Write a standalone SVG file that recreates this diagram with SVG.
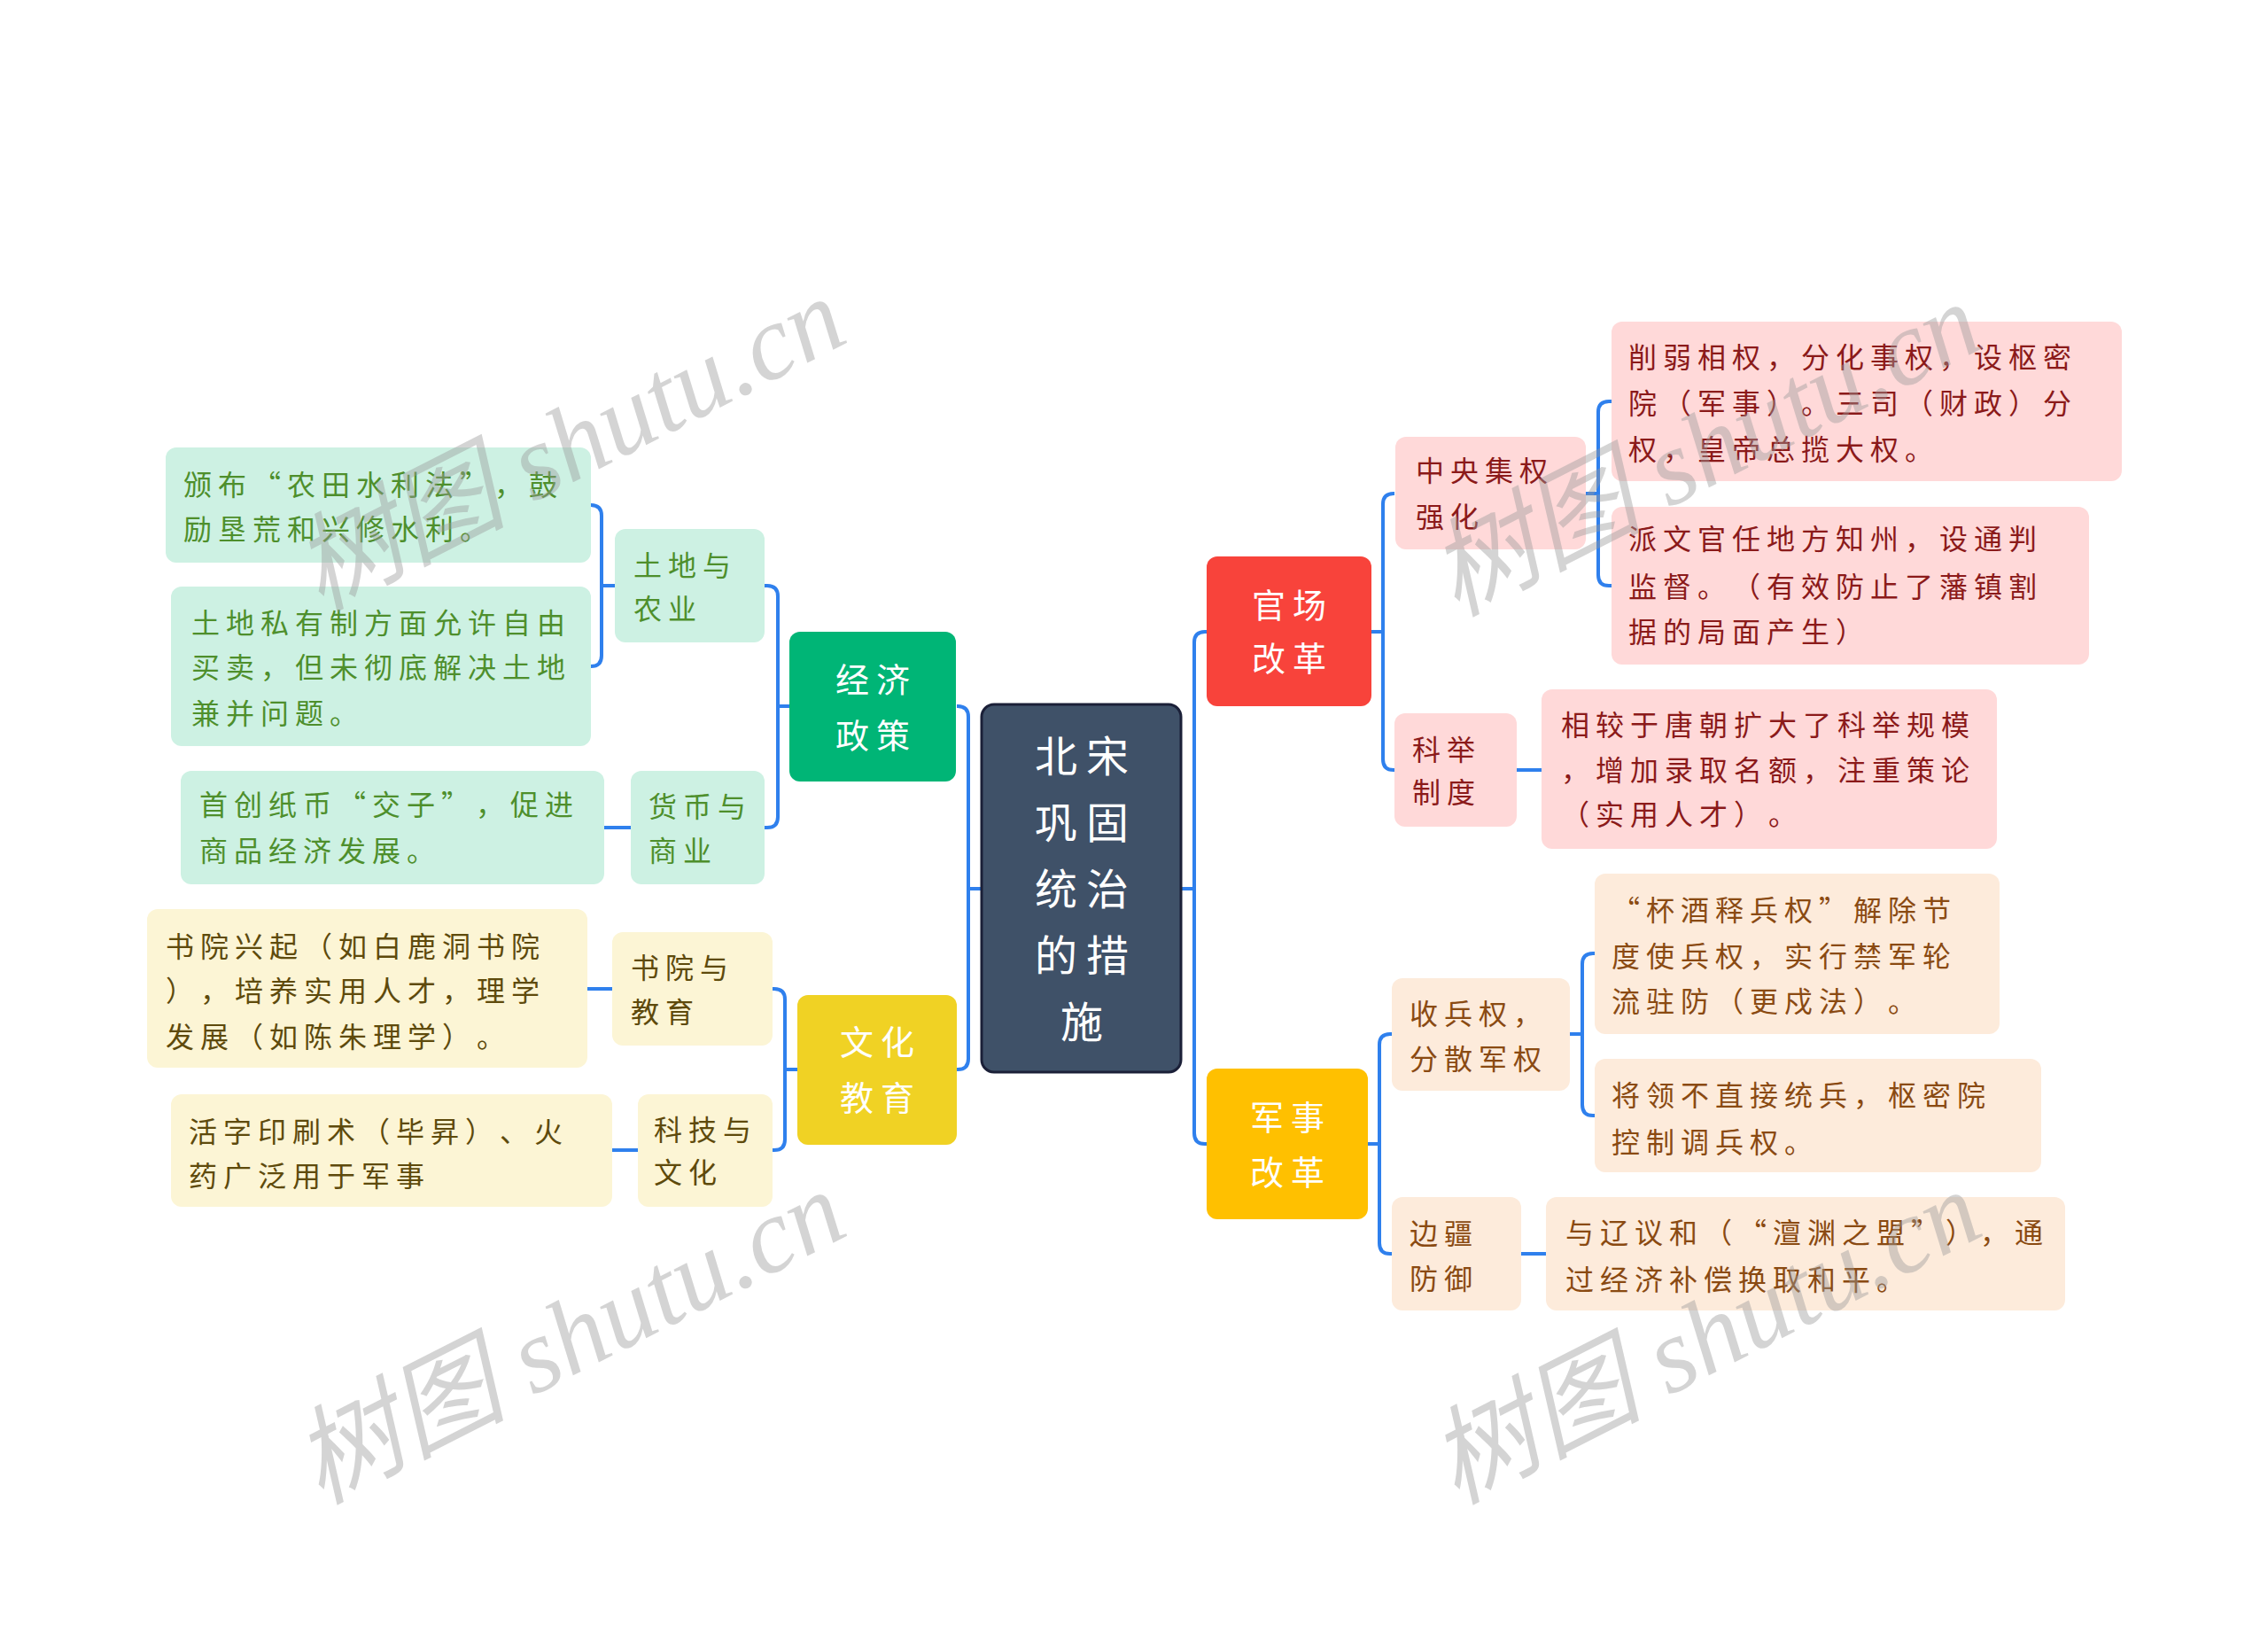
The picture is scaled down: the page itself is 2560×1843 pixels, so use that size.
<svg xmlns="http://www.w3.org/2000/svg" width="2560" height="1843" viewBox="0 0 2560 1843">
<style>
.bg{fill:#ffffff}
.c{fill:none;stroke:#2f80ed;stroke-width:4;stroke-linejoin:round}
text{text-spacing-trim:space-all;font-kerning:none}
.t{font-family:"Noto Sans CJK SC","Noto Sans CJK JP",sans-serif;font-size:32px;letter-spacing:7px}
.m{font-family:"Noto Sans CJK SC","Noto Sans CJK JP",sans-serif;font-size:38px;letter-spacing:8px;fill:#ffffff}
.root{font-family:"Noto Sans CJK SC","Noto Sans CJK JP",sans-serif;font-size:48px;letter-spacing:10px;fill:#ffffff}
.pk rect{fill:#ffd9d9}.pk text{fill:#8b1a1a}
.pe rect{fill:#fdebdb}.pe text{fill:#8a4a12}
.gr rect{fill:#cdf1e3}.gr text{fill:#4e8f2c}
.ye rect{fill:#fcf5d5}.ye text{fill:#5e4a0c}
.wm{font-family:"Liberation Serif","Noto Sans CJK SC",serif;font-style:italic;font-size:120px;fill:#9a9a9a;opacity:0.42}
</style>
<rect class="bg" x="0" y="0" width="2560" height="1843"/>

<g id="connectors">
<path class="c" d="M1333,1003 H1348"/>
<path class="c" d="M1362,713 H1360 Q1348,713 1348,725 V1279 Q1348,1291 1360,1291 H1362"/>
<path class="c" d="M1548,713 H1561"/>
<path class="c" d="M1574,557 H1573 Q1561,557 1561,569 V857 Q1561,869 1573,869 H1574"/>
<path class="c" d="M1790,557 H1804"/>
<path class="c" d="M1819,453 H1816 Q1804,453 1804,465 V649 Q1804,661 1816,661 H1819"/>
<path class="c" d="M1712,869 H1740"/>
<path class="c" d="M1544,1291 H1557"/>
<path class="c" d="M1571,1167 H1569 Q1557,1167 1557,1179 V1403 Q1557,1415 1569,1415 H1571"/>
<path class="c" d="M1772,1167 H1786"/>
<path class="c" d="M1800,1076 H1798 Q1786,1076 1786,1088 V1247 Q1786,1259 1798,1259 H1800"/>
<path class="c" d="M1717,1415 H1745"/>
<path class="c" d="M1108,1003 H1093"/>
<path class="c" d="M1080,797 H1081 Q1093,797 1093,809 V1195 Q1093,1207 1081,1207 H1080"/>
<path class="c" d="M891,797 H878"/>
<path class="c" d="M863,661 H866 Q878,661 878,673 V922 Q878,934 866,934 H863"/>
<path class="c" d="M694,661 H679"/>
<path class="c" d="M667,570 Q679,570 679,582 V740 Q679,752 667,752"/>
<path class="c" d="M712,934 H682"/>
<path class="c" d="M900,1207 H886"/>
<path class="c" d="M872,1116 H874 Q886,1116 886,1128 V1286 Q886,1298 874,1298 H872"/>
<path class="c" d="M691,1116 H663"/>
<path class="c" d="M720,1298 H691"/>
</g>

<g id="root">
<rect x="1108" y="795" width="225" height="415" rx="14" fill="#3f5168" stroke="#1b2038" stroke-width="3"/>
<text class="root" x="1168" y="871">北宋</text>
<text class="root" x="1168" y="946">巩固</text>
<text class="root" x="1168" y="1021">统治</text>
<text class="root" x="1168" y="1096">的措</text>
<text class="root" x="1197" y="1171">施</text>
</g>

<g id="n-guanchang">
<rect x="1362" y="628" width="186" height="169" rx="12" fill="#f8433b"/>
<text class="m" x="1413" y="697">官场</text>
<text class="m" x="1413" y="757">改革</text>
</g>
<g id="n-zhongyang" class="pk">
<rect x="1575" y="493" width="215" height="127" rx="12"/>
<text class="t" x="1598" y="543">中央集权</text>
<text class="t" x="1598" y="595">强化</text>
</g>
<g id="n-xueruo" class="pk">
<rect x="1819" y="363" width="576" height="180" rx="12"/>
<text class="t" x="1838" y="415">削弱相权，分化事权，设枢密</text>
<text class="t" x="1838" y="467">院（军事）。三司（财政）分</text>
<text class="t" x="1838" y="519">权，皇帝总揽大权。</text>
</g>
<g id="n-paiwenguan" class="pk">
<rect x="1819" y="572" width="539" height="178" rx="12"/>
<text class="t" x="1838" y="620">派文官任地方知州，设通判</text>
<text class="t" x="1838" y="674">监督。（有效防止了藩镇割</text>
<text class="t" x="1838" y="725">据的局面产生）</text>
</g>
<g id="n-keju" class="pk">
<rect x="1574" y="805" width="138" height="128" rx="12"/>
<text class="t" x="1594" y="858">科举</text>
<text class="t" x="1594" y="906">制度</text>
</g>
<g id="n-xiangjiao" class="pk">
<rect x="1740" y="778" width="514" height="180" rx="12"/>
<text class="t" x="1762" y="830">相较于唐朝扩大了科举规模</text>
<text class="t" x="1762" y="881">，增加录取名额，注重策论</text>
<text class="t" x="1762" y="931">（实用人才）。</text>
</g>

<g id="n-junshi">
<rect x="1362" y="1206" width="182" height="170" rx="12" fill="#ffc000"/>
<text class="m" x="1411" y="1275">军事</text>
<text class="m" x="1411" y="1337">改革</text>
</g>
<g id="n-shoubing" class="pe">
<rect x="1571" y="1104" width="201" height="127" rx="12"/>
<text class="t" x="1591" y="1156">收兵权，</text>
<text class="t" x="1591" y="1207">分散军权</text>
</g>
<g id="n-beijiu" class="pe">
<rect x="1800" y="986" width="457" height="181" rx="12"/>
<text class="t" x="1819" y="1039">“杯酒释兵权”解除节</text>
<text class="t" x="1819" y="1091">度使兵权，实行禁军轮</text>
<text class="t" x="1819" y="1142">流驻防（更戍法）。</text>
</g>
<g id="n-jiangling" class="pe">
<rect x="1800" y="1195" width="504" height="128" rx="12"/>
<text class="t" x="1819" y="1248">将领不直接统兵，枢密院</text>
<text class="t" x="1819" y="1301">控制调兵权。</text>
</g>
<g id="n-bianjiang" class="pe">
<rect x="1571" y="1351" width="146" height="128" rx="12"/>
<text class="t" x="1591" y="1404">边疆</text>
<text class="t" x="1591" y="1455">防御</text>
</g>
<g id="n-yuliao" class="pe">
<rect x="1745" y="1351" width="586" height="128" rx="12"/>
<text class="t" x="1767" y="1403">与辽议和（“澶渊之盟”），通</text>
<text class="t" x="1767" y="1456">过经济补偿换取和平。</text>
</g>

<g id="n-jingji">
<rect x="891" y="713" width="188" height="169" rx="12" fill="#00b576"/>
<text class="m" x="943" y="781">经济</text>
<text class="m" x="943" y="844">政策</text>
</g>
<g id="n-tudi" class="gr">
<rect x="694" y="597" width="169" height="128" rx="12"/>
<text class="t" x="715" y="650">土地与</text>
<text class="t" x="715" y="699">农业</text>
</g>
<g id="n-banbu" class="gr">
<rect x="187" y="505" width="480" height="130" rx="12"/>
<text class="t" x="207" y="559">颁布“农田水利法”，鼓</text>
<text class="t" x="207" y="609">励垦荒和兴修水利。</text>
</g>
<g id="n-tudisiyou" class="gr">
<rect x="193" y="662" width="474" height="180" rx="12"/>
<text class="t" x="216" y="715">土地私有制方面允许自由</text>
<text class="t" x="216" y="765">买卖，但未彻底解决土地</text>
<text class="t" x="216" y="817">兼并问题。</text>
</g>
<g id="n-huobi" class="gr">
<rect x="712" y="870" width="151" height="128" rx="12"/>
<text class="t" x="732" y="922">货币与</text>
<text class="t" x="732" y="972">商业</text>
</g>
<g id="n-shouchuang" class="gr">
<rect x="204" y="870" width="478" height="128" rx="12"/>
<text class="t" x="225" y="920">首创纸币“交子”，促进</text>
<text class="t" x="225" y="972">商品经济发展。</text>
</g>

<g id="n-wenhua">
<rect x="900" y="1123" width="180" height="169" rx="12" fill="#f0d224"/>
<text class="m" x="948" y="1190">文化</text>
<text class="m" x="948" y="1253">教育</text>
</g>
<g id="n-shuyuan" class="ye">
<rect x="691" y="1052" width="181" height="128" rx="12"/>
<text class="t" x="712" y="1104">书院与</text>
<text class="t" x="712" y="1154">教育</text>
</g>
<g id="n-shuyuanxingqi" class="ye">
<rect x="166" y="1026" width="497" height="179" rx="12"/>
<text class="t" x="187" y="1080">书院兴起（如白鹿洞书院</text>
<text class="t" x="187" y="1130">），培养实用人才，理学</text>
<text class="t" x="187" y="1182">发展（如陈朱理学）。</text>
</g>
<g id="n-keji" class="ye">
<rect x="720" y="1235" width="152" height="127" rx="12"/>
<text class="t" x="738" y="1287">科技与</text>
<text class="t" x="738" y="1335">文化</text>
</g>
<g id="n-huozi" class="ye">
<rect x="193" y="1235" width="498" height="127" rx="12"/>
<text class="t" x="213" y="1289">活字印刷术（毕昇）、火</text>
<text class="t" x="213" y="1339">药广泛用于军事</text>
</g>

<g id="watermarks">
<text class="wm" text-anchor="middle" transform="translate(645,506) rotate(-27)" x="0" y="35">树图 shutu.cn</text>
<text class="wm" text-anchor="middle" transform="translate(1927,512) rotate(-27)" x="0" y="35">树图 shutu.cn</text>
<text class="wm" text-anchor="middle" transform="translate(645,1514) rotate(-27)" x="0" y="35">树图 shutu.cn</text>
<text class="wm" text-anchor="middle" transform="translate(1927,1514) rotate(-27)" x="0" y="35">树图 shutu.cn</text>
</g>
</svg>
